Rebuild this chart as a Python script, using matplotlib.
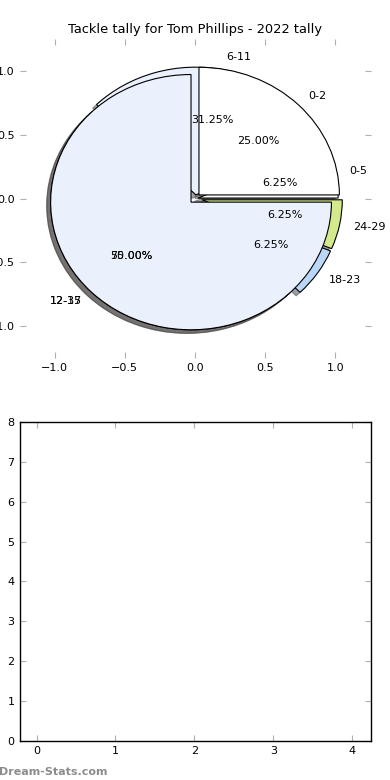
import matplotlib
matplotlib.use("Agg")
import matplotlib.pyplot as plt

# Data
title = "Tackle tally for Tom Phillips - 2022 tally"
labels_a = ["0-5", "6-11", "12-17", "18-23", "24-29"]
values_a = [1, 5, 8, 1, 1]
labels_b = ["0-2", "12-35"]
values_b = [1, 3]
colors = ["#ffffff", "#eaf1fc", "#f2d7a6", "#bad7f7", "#d3ea8c"]
bar_xticks = [0, 1, 2, 3, 4]
bar_yticks = [0, 1, 2, 3, 4, 5, 6, 7, 8]

plt.rcParams["font.family"] = ["DejaVu Sans"]
plt.rcParams["font.size"] = 8

fig = plt.figure(figsize=(3.9, 7.8), dpi=100)
fig.subplots_adjust(left=0.05, right=0.95, top=0.95, bottom=0.05, hspace=0.2)
ax1 = fig.add_subplot(2, 1, 1)
ax2 = fig.add_subplot(2, 1, 2)

wp = dict(edgecolor="black", linewidth=0.8)
ax1.pie(values_a, labels=labels_a, colors=colors[:len(values_a)],
        explode=[0.02, 0.03, 0.04, 0.05, 0.05], shadow=True, startangle=0,
        autopct="%.2f%%", wedgeprops=wp, textprops=dict(fontsize=8))
ax1.pie(values_b, labels=labels_b, colors=colors[:len(values_b)],
        explode=[0.04, 0.04], shadow=True, startangle=0,
        autopct="%.2f%%", wedgeprops=wp, textprops=dict(fontsize=8))
ax1.set_aspect("auto")
ax1.set_frame_on(False)
ax1.set_xlim(-1.25, 1.25)
ax1.set_ylim(-1.25, 1.25)
ax1.set_xticks([-1.0, -0.5, 0.0, 0.5, 1.0])
ax1.set_yticks([-1.0, -0.5, 0.0, 0.5, 1.0])
ax1.tick_params(direction="in", top=True, right=True, color="#b0b0b0",
                length=4, labelsize=8)
ax1.set_title(title, fontsize=9.4, pad=4)

ax2.set_xlim(-0.216, 4.23)
ax2.set_ylim(0, 8)
ax2.set_xticks(bar_xticks)
ax2.set_yticks(bar_yticks)
ax2.tick_params(direction="in", top=True, right=True, color="#b0b0b0",
                length=4, labelsize=8)
for s in ax2.spines.values():
    s.set_linewidth(1.0)
    s.set_color("black")

fig.text(-0.003, 0.004, "Dream-Stats.com", color="#8c8c8c", fontsize=8,
         fontweight="bold", ha="left", va="bottom")

fig.savefig("out.png", dpi=100)
